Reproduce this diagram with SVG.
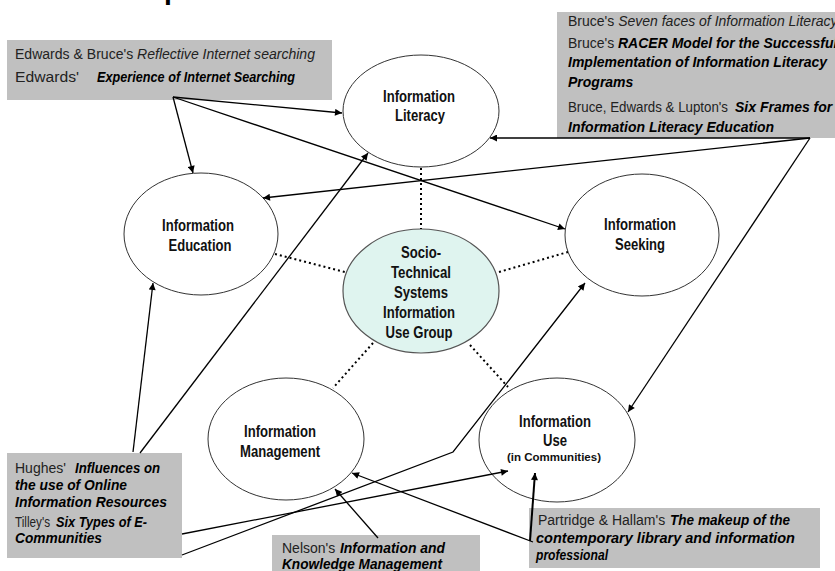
<svg xmlns="http://www.w3.org/2000/svg" width="835" height="571" viewBox="0 0 835 571">
  <style>
    .bg { fill: #ffffff; }
    .node { fill: #ffffff; stroke: #333333; stroke-width: 1; }
    .core { fill: #dff4ef; stroke: #555555; stroke-width: 1.2; }
    .lbl { font-family: "Liberation Sans Narrow", "Arial Narrow", "Liberation Sans", sans-serif; font-weight: bold; font-size: 16px; fill: #111111; text-anchor: middle; }
    .small { font-size: 11.5px; }
    .box { fill: #c0c0c0; }
    .ref { font-family: "Liberation Sans", Arial, sans-serif; font-size: 14px; fill: #222222; }
    .bi { font-weight: bold; font-style: italic; fill: #000000; }
    .it { font-style: italic; }
    .link { fill: none; stroke: #000000; stroke-width: 1.3; }
    .thick { stroke-width: 2; }
    .dot { fill: none; stroke: #000000; stroke-width: 2; stroke-dasharray: 2 3; }
    .title { font-family: "Liberation Sans", Arial, sans-serif; font-size: 44px; fill: #000000; }
  </style>
  <defs>
    <marker id="ah" viewBox="0 0 10 10" refX="10" refY="5" markerWidth="8" markerHeight="7" markerUnits="userSpaceOnUse" orient="auto">
      <path d="M0,0 L10,5 L0,10 z" fill="#000000"/>
    </marker>
  </defs>

  <rect class="bg" x="0" y="0" width="835" height="571"/>

  <!-- heading, mostly above the visible area -->
  <text class="title" x="163" y="-4">p</text>

  <!-- reference boxes -->
  <g id="ref-edwards">
    <rect class="box" x="7" y="40" width="325" height="60"/>
    <text class="ref" x="15" y="59" textLength="300" lengthAdjust="spacingAndGlyphs">Edwards &amp; Bruce's <tspan class="it">Reflective Internet searching</tspan></text>
    <text class="ref" x="15" y="82" textLength="64" lengthAdjust="spacingAndGlyphs">Edwards'</text>
    <text class="ref bi" x="97" y="82" textLength="198" lengthAdjust="spacingAndGlyphs">Experience of Internet Searching</text>
  </g>

  <g id="ref-bruce">
    <rect class="box" x="557" y="12" width="278" height="126"/>
    <text class="ref" x="568" y="26">Bruce's <tspan class="it">Seven faces of Information Literacy</tspan></text>
    <text class="ref" x="568" y="48">Bruce's</text>
    <text class="ref bi" x="618" y="48">RACER Model for the Successful</text>
    <text class="ref bi" x="568" y="67">Implementation of Information Literacy</text>
    <text class="ref bi" x="568" y="87">Programs</text>
    <text class="ref" x="568" y="112" textLength="160" lengthAdjust="spacingAndGlyphs">Bruce, Edwards &amp; Lupton's</text>
    <text class="ref bi" x="735" y="112">Six Frames for</text>
    <text class="ref bi" x="568" y="132">Information Literacy Education</text>
  </g>

  <g id="ref-hughes-tilley">
    <rect class="box" x="7" y="453" width="175" height="105"/>
    <text class="ref" x="15" y="473">Hughes'</text>
    <text class="ref bi" x="75" y="473" textLength="85" lengthAdjust="spacingAndGlyphs">Influences on</text>
    <text class="ref bi" x="15" y="490" textLength="112" lengthAdjust="spacingAndGlyphs">the use of Online</text>
    <text class="ref bi" x="15" y="507" textLength="152" lengthAdjust="spacingAndGlyphs">Information Resources</text>
    <text class="ref" x="15" y="527" textLength="35" lengthAdjust="spacingAndGlyphs">Tilley's</text>
    <text class="ref bi" x="56" y="527" textLength="91" lengthAdjust="spacingAndGlyphs">Six Types of E-</text>
    <text class="ref bi" x="15" y="543" textLength="87" lengthAdjust="spacingAndGlyphs">Communities</text>
  </g>

  <g id="ref-nelson">
    <rect class="box" x="272" y="535" width="208" height="40"/>
    <text class="ref" x="282" y="553">Nelson's</text>
    <text class="ref bi" x="340" y="553" textLength="105" lengthAdjust="spacingAndGlyphs">Information and</text>
    <text class="ref bi" x="282" y="569" textLength="160" lengthAdjust="spacingAndGlyphs">Knowledge Management</text>
  </g>

  <g id="ref-partridge">
    <rect class="box" x="529" y="508" width="291" height="60"/>
    <text class="ref" x="538" y="525">Partridge &amp; Hallam's</text>
    <text class="ref bi" x="670" y="525" textLength="120" lengthAdjust="spacingAndGlyphs">The makeup of the</text>
    <text class="ref bi" x="536" y="543" textLength="259" lengthAdjust="spacingAndGlyphs">contemporary library and information</text>
    <text class="ref bi" x="536" y="560" textLength="72" lengthAdjust="spacingAndGlyphs">professional</text>
  </g>

  <!-- topic nodes -->
  <g id="information-literacy">
    <ellipse class="node" cx="421" cy="111" rx="78" ry="56"/>
    <text class="lbl" x="419" y="102" textLength="72" lengthAdjust="spacingAndGlyphs">Information</text>
    <text class="lbl" x="420" y="121" textLength="50" lengthAdjust="spacingAndGlyphs">Literacy</text>
  </g>

  <g id="information-education">
    <ellipse class="node" cx="201" cy="234" rx="77" ry="61"/>
    <text class="lbl" x="198" y="231" textLength="72" lengthAdjust="spacingAndGlyphs">Information</text>
    <text class="lbl" x="200" y="251" textLength="63" lengthAdjust="spacingAndGlyphs">Education</text>
  </g>

  <g id="information-seeking">
    <ellipse class="node" cx="642" cy="235" rx="77" ry="61"/>
    <text class="lbl" x="640" y="230" textLength="72" lengthAdjust="spacingAndGlyphs">Information</text>
    <text class="lbl" x="640" y="250" textLength="50" lengthAdjust="spacingAndGlyphs">Seeking</text>
  </g>

  <g id="socio-technical-group">
    <ellipse class="core" cx="421" cy="291" rx="78" ry="62"/>
    <text class="lbl" x="421" y="258" textLength="40" lengthAdjust="spacingAndGlyphs">Socio-</text>
    <text class="lbl" x="421" y="278" textLength="60" lengthAdjust="spacingAndGlyphs">Technical</text>
    <text class="lbl" x="421" y="298" textLength="54" lengthAdjust="spacingAndGlyphs">Systems</text>
    <text class="lbl" x="419" y="318" textLength="72" lengthAdjust="spacingAndGlyphs">Information</text>
    <text class="lbl" x="419" y="338" textLength="67" lengthAdjust="spacingAndGlyphs">Use Group</text>
  </g>

  <g id="information-management">
    <ellipse class="node" cx="286" cy="439" rx="78" ry="61"/>
    <text class="lbl" x="280" y="437" textLength="72" lengthAdjust="spacingAndGlyphs">Information</text>
    <text class="lbl" x="280" y="457" textLength="80" lengthAdjust="spacingAndGlyphs">Management</text>
  </g>

  <g id="information-use">
    <ellipse class="node" cx="557" cy="440" rx="78" ry="62"/>
    <text class="lbl" x="555" y="427" textLength="72" lengthAdjust="spacingAndGlyphs">Information</text>
    <text class="lbl" x="555" y="446" textLength="24" lengthAdjust="spacingAndGlyphs">Use</text>
    <text class="lbl small" x="554" y="461" textLength="94" lengthAdjust="spacingAndGlyphs">(in Communities)</text>
  </g>

  <!-- connectors -->
  <g id="connectors">
    <!-- dotted links from the central group -->
    <path class="dot" d="M421,168 L421,229"/>
    <path class="dot" d="M275,254 L345,272"/>
    <path class="dot" d="M499,272 L568,252"/>
    <path class="dot" d="M373,343 L333,388"/>
    <path class="dot" d="M470,345 L508,387"/>

    <!-- Edwards / Bruce -->
    <path class="link" d="M173,97 L342,113" marker-end="url(#ah)"/>
    <path class="link" d="M173,97 L193,173" marker-end="url(#ah)"/>
    <path class="link" d="M173,97 L565,229" marker-end="url(#ah)"/>

    <!-- Bruce models -->
    <path class="link" d="M810,138 L490,138" marker-end="url(#ah)"/>
    <path class="link" d="M810,138 L263,198" marker-end="url(#ah)"/>
    <path class="link" d="M810,138 L628,412" marker-end="url(#ah)"/>

    <!-- Hughes -->
    <path class="link" d="M133,452 L153,283" marker-end="url(#ah)"/>
    <path class="link" d="M140,453 L368,153" marker-end="url(#ah)"/>

    <!-- Tilley -->
    <path class="link" d="M182,534 L508,471" marker-end="url(#ah)"/>
    <path class="link" d="M182,555 L453,452 L585,283" marker-end="url(#ah)"/>

    <!-- Partridge & Hallam -->
    <path class="link" d="M533,542 L352,473" marker-end="url(#ah)"/>
    <path class="link thick" d="M530,541 L535,473" marker-end="url(#ah)"/>

    <!-- Nelson -->
    <path class="link" d="M378,538 L335,489" marker-end="url(#ah)"/>
  </g>
</svg>
